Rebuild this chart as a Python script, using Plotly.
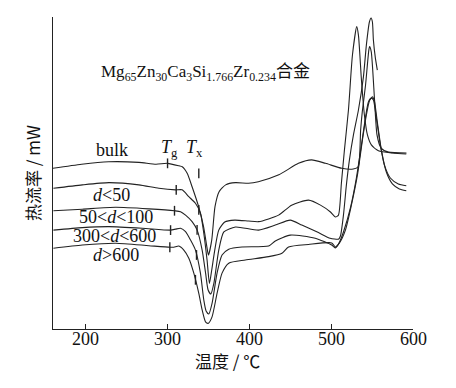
import plotly.graph_objects as go
import numpy as np

# ---- data (temperature in °C, heat flow in arbitrary units) ----
bulk_T = [160, 195, 228, 265, 286, 300, 314, 318, 324, 330, 338, 344, 348, 350, 354, 358, 363, 371, 383,
          399, 411, 436, 460, 476, 493, 513, 527, 533, 536, 538, 542, 546, 547, 549, 553, 556, 561, 570, 592]
bulk_H = [51.5, 52.8, 53.6, 53.4, 52.8, 53.1, 52.3, 52.0, 49.9, 45.6, 39.2, 32.8, 26.4, 23.7, 28.5, 39.2, 44.0,
          46.2, 46.9, 46.7, 47.2, 49.4, 53.1, 54.2, 53.1, 51.5, 51.3, 52.0, 63.8, 69.6, 78.2, 89.4, 90.5, 88.8,
          73.4, 62.2, 58.0, 56.7, 56.4]

d50_T = [160.5, 195.9, 228.4, 265, 289.4, 309.8, 317.8, 326, 334.1, 340.2, 344.3, 348.3, 351.2, 354, 357.7,
         362.6, 369.9, 382.1, 399.1, 411.3, 435.7, 451.6, 472.3, 486.9, 499.1, 505.2, 508.9, 512.5, 516.2,
         521.1, 526, 531.2, 533.3, 537, 540.6, 544.3, 549.1, 557.7, 576, 591.8]
d50_H = [45.1, 46.2, 46.9, 46.2, 45.1, 44.6, 44.6, 42.4, 40.3, 37.1, 30.7, 22.1, 14.6, 18.9, 25.3, 31.7, 34.3,
         34.9, 34.6, 34.4, 36.5, 39.7, 41.3, 39.7, 37.5, 35.9, 36.5, 46.8, 57.4, 70.2, 87.8, 96.9, 94.2, 79.8,
         68.6, 62.2, 59.0, 57.1, 56.4, 56.1]

d50_100_T = [160.5, 195.9, 236.6, 277.2, 308.5, 315.9, 322, 330, 336.2, 342.3, 346.5, 349.6, 352.9, 356.6,
             362.6, 368.8, 383, 411.3, 431.7, 450, 464.1, 484.4, 498.7, 508.9, 511.3, 515, 518.6, 522.3,
             527.2, 533.3, 539.4, 543, 546.7, 548.8, 550.4, 551.6, 554, 556.4]
d50_100_H = [37.9, 38.4, 39.0, 38.5, 37.9, 37.6, 36.5, 34.4, 31.7, 25.3, 17.9, 12.5, 11.2, 14.6, 25.3, 31.1,
             32.7, 31.7, 33.3, 34.9, 33.3, 30.9, 29.1, 28.8, 29.8, 36.5, 46.2, 54.2, 62.2, 70.2, 80.8, 91.0,
             98.4, 99.7, 98.4, 92.6, 86.9, 83.0]

d300_600_T = [160.5, 195.9, 228.4, 269.1, 303.7, 309.8, 315.9, 322, 328.1, 334.1, 340.2, 344.3, 347.1, 350.4,
              354.4, 360.5, 366.6, 374.8, 391, 423.5, 431.7, 450, 480.5, 500.7, 504.9, 508.9, 515, 523.5,
              530.8, 537, 541.8, 545.5, 549.1, 551.6, 555.2, 560.1, 565, 572.3, 582.1, 591.8]
d300_600_H = [31.7, 32.5, 32.8, 32.3, 31.7, 32.0, 32.3, 31.2, 28.5, 25.3, 17.9, 9.3, 5.8, 4.8, 8.2, 17.9, 23.7,
              25.6, 26.3, 26.6, 28.2, 30.1, 29.1, 26.9, 26.0, 27.2, 31.1, 38.8, 48.4, 59.0, 67.6, 72.8, 74.0,
              73.4, 67.6, 59.0, 52.6, 48.4, 46.5, 45.9]

d600_T = [160.5, 195.9, 236.6, 277.2, 302.8, 307.7, 313.8, 319.9, 326, 332.1, 338.2, 342.3, 346.4, 349.6,
          354.4, 360.5, 366.6, 374.8, 395.1, 423.5, 439.8, 447.9, 472.3, 500.7, 505.2, 510.1, 517.4, 524.7,
          532.1, 538.2, 543, 546.7, 550.4, 552.8, 556.4, 561.3, 567.4, 574.8, 583.3, 591.8]
d600_H = [25.9, 26.9, 27.5, 26.7, 26.2, 26.2, 26.6, 25.3, 22.7, 17.9, 11.4, 6.1, 2.3, 1.8, 3.9, 11.4, 17.9,
          21.1, 22.1, 23.2, 24.3, 26.3, 27.1, 27.6, 26.3, 27.6, 31.7, 39.7, 49.4, 60.6, 68.6, 73.1, 74.4, 73.1,
          66.3, 57.4, 50.3, 46.5, 44.9, 44.3]

series_names = ["bulk", "d<50", "50<d<100", "300<d<600", "d>600"]
series_T = [bulk_T, d50_T, d50_100_T, d300_600_T, d600_T]
series_H = [bulk_H, d50_H, d50_100_H, d300_600_H, d600_H]

Tg_values = [300, 310.6, 308.5, 303.7, 302.8]
Tx_values = [338.2, 338.2, 336.1, 335.4, 334.1]
bulk_Tx_mark_H = 49.9  # bulk Tx mark drawn above the curve

label_texts = ["bulk", "<i>d</i>&lt;50", "50&lt;<i>d</i>&lt;100", "300&lt;<i>d</i>&lt;600", "<i>d</i>&gt;600"]
label_T = [232, 231.5, 237.6, 235.7, 237]
label_H = [57.4, 42.9, 35.9, 29.8, 23.7]

x_ticks = [200, 300, 400, 500, 600]
x_tick_labels = ["200", "300", "400", "500", "600"]

SERIF = "Liberation Serif"
CJK = "Noto Sans CJK SC"
LINE = "#222222"
TXT = "#111111"

fig = go.Figure()
for name, T, H in zip(series_names, series_T, series_H):
    fig.add_trace(go.Scatter(x=T, y=H, mode="lines", name=name,
                             line=dict(color=LINE, width=1.1, shape="spline", smoothing=0.6),
                             showlegend=False, hoverinfo="skip"))

# Tg / Tx markers
tg_y = [float(np.interp(t, T, H)) for t, T, H in zip(Tg_values, series_T, series_H)]
tx_y = [float(np.interp(t, T, H)) for t, T, H in zip(Tx_values, series_T, series_H)]
tx_y[0] = bulk_Tx_mark_H
fig.add_trace(go.Scatter(x=Tg_values + Tx_values, y=tg_y + tx_y, mode="markers",
                         marker=dict(symbol="line-ns-open", size=7, color=LINE, line=dict(color=LINE, width=1.4)),
                         showlegend=False, hoverinfo="skip"))

for txt, t, h in zip(label_texts, label_T, label_H):
    fig.add_annotation(x=t, y=h, xref="x", yref="y", text=txt, showarrow=False,
                       font=dict(family=SERIF, size=18, color=TXT))

fig.add_annotation(x=302.8, y=57.7, xref="x", yref="y", text="<i>T</i><sub>g</sub>", showarrow=False,
                   font=dict(family=SERIF, size=18, color=TXT))
fig.add_annotation(x=333.3, y=57.7, xref="x", yref="y", text="<i>T</i><sub>x</sub>", showarrow=False,
                   font=dict(family=SERIF, size=18, color=TXT))

fig.add_annotation(x=346, y=83, xref="x", yref="y",
                   text="Mg<sub>65</sub>Zn<sub>30</sub>Ca<sub>3</sub>Si<sub>1.766</sub>Zr<sub>0.234</sub>"
                        "<span style='font-family:Noto Sans CJK SC'>合金</span>",
                   showarrow=False, font=dict(family=SERIF, size=17, color=TXT))

# x tick labels (drawn as text at the tick values)
for v, lab in zip(x_ticks, x_tick_labels):
    fig.add_annotation(x=v, y=0, xref="x", yref="paper", text=lab, showarrow=False, yanchor="middle",
                       yshift=-10, font=dict(family=SERIF, size=18, color=TXT))

# axis titles
fig.add_annotation(x=0.486, y=0, xref="paper", yref="paper", text="温度 / ℃", showarrow=False,
                   font=dict(family=CJK, size=17, color=TXT), yanchor="middle", yshift=-31)
fig.add_annotation(x=-0.058, y=0.50, xref="paper", yref="paper", text="热流率 / mW", showarrow=False,
                   textangle=-90, font=dict(family=CJK, size=17, color=TXT), xanchor="center")

fig.update_layout(
    width=456, height=388,
    margin=dict(l=53, r=43, t=17, b=59),
    paper_bgcolor="white", plot_bgcolor="white",
    showlegend=False,
    font=dict(family=SERIF, color=TXT),
)
fig.update_xaxes(range=[160, 600], tickvals=x_ticks, ticks="inside", ticklen=5, tickcolor="#222",
                 showline=True, linecolor="#222", linewidth=1.2, showgrid=False, zeroline=False,
                 showticklabels=False)
fig.update_yaxes(range=[0, 100], showline=True, linecolor="#222", linewidth=1.2, showgrid=False,
                 zeroline=False, showticklabels=False, ticks="")

fig.write_html("out.html", config={"displayModeBar": False},
               post_script="document.body.style.margin='0';")
